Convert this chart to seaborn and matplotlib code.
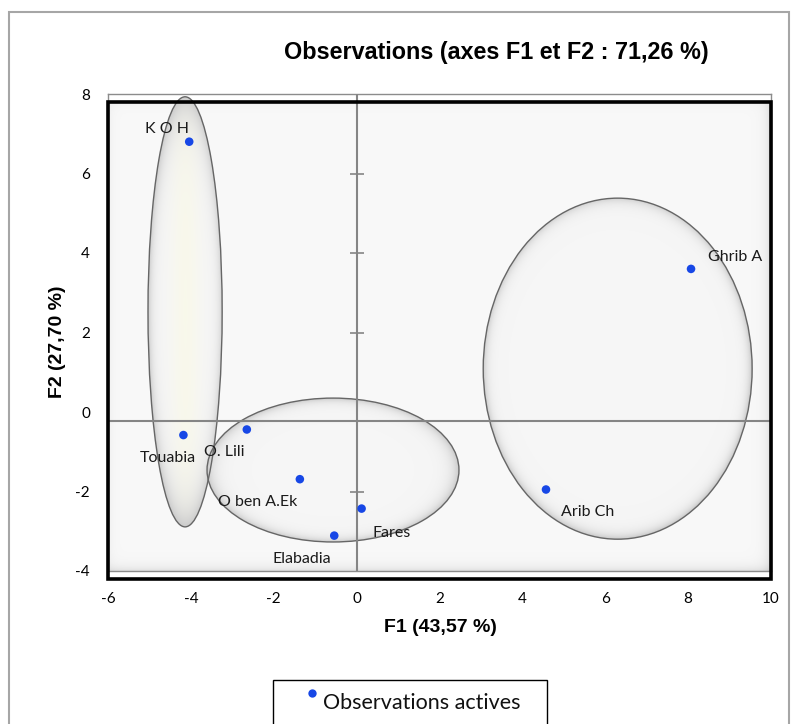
import numpy as np
import pandas as pd
import matplotlib
matplotlib.use("Agg")
import matplotlib.pyplot as plt
from matplotlib.patches import Ellipse, Rectangle
from matplotlib.lines import Line2D
import seaborn as sns

# PCA observation scores on the first two factors
sites = ["K O H", "Touabia", "O. Lili", "O ben A.Ek", "Fares", "Elabadia", "Ghrib A", "Arib Ch"]
f1 = [-4.04, -4.18, -2.65, -1.37, 0.12, -0.54, 8.07, 4.57]
f2 = [6.80, -0.58, -0.44, -1.69, -2.43, -3.11, 3.60, -1.95]

x_ticks = [-6, -4, -2, 0, 2, 4, 6, 8, 10]
y_ticks = [-4, -2, 0, 2, 4, 6, 8]

title = "Observations (axes F1 et F2 : 71,26 %)"
x_title = "F1 (43,57 %)"
y_title = "F2 (27,70 %)"
legend_label = "Observations actives"

# label placement relative to each point (pixels)
label_offsets = [(-22, 13), (-16, -23), (-23, -23), (-42, -23),
                 (30, -24), (-32, -23), (44, 12), (42, -22)]

# group envelopes: (centre x, centre y, width, height, yellow tint)
groups = [(-4.14, 2.52, 1.79, 10.82, True),
          (-0.57, -1.46, 6.08, 3.62, False),
          (6.30, 1.09, 6.49, 8.58, False)]

df = pd.DataFrame({"site": sites, "F1": f1, "F2": f2})

sns.set_theme(style="white")
plt.rcParams["font.family"] = ["Lato", "DejaVu Sans"]
plt.rcParams["text.color"] = "black"
plt.rcParams["axes.labelcolor"] = "black"
plt.rcParams["xtick.color"] = "black"
plt.rcParams["ytick.color"] = "black"

W, H = 797, 724
fig = plt.figure(figsize=(W / 100, H / 100), dpi=100)
fig.patch.set_facecolor("white")

# outer chart border
fig.add_artist(Rectangle((9 / W, -0.1), 780 / W, 1.1 - 12 / H,
                         transform=fig.transFigure, fill=False,
                         edgecolor="#a6a6a6", lw=1.5))

ax_l, ax_r, ax_t, ax_b = 108, 771, 94, 571
ax = fig.add_axes([ax_l / W, 1 - ax_b / H, (ax_r - ax_l) / W, (ax_b - ax_t) / H])
ax.set_xlim(-6, 10)
ax.set_ylim(-4, 8)
ax.set_facecolor("white")

# bevelled panel background
top_frac = (ax_b - 102) / (ax_b - ax_t)
pw, ph = ax_r - ax_l, ax_b - 102
yy, xx = np.mgrid[0:ph, 0:pw].astype(float)
dl, dr = xx, pw - 1 - xx
dt, db = yy, ph - 1 - yy
shade = (0.975 - 0.11 * np.exp(-dr / 5) - 0.09 * np.exp(-db / 5)
         - 0.04 * np.exp(-dl / 4) - 0.03 * np.exp(-dt / 4))
bg = np.dstack([shade] * 3).clip(0, 1)
ax.imshow(bg, extent=[0, 1, 0, top_frac], transform=ax.transAxes,
          aspect="auto", zorder=0, interpolation="bilinear")

# group envelopes with soft rim shading
px_x = (ax_r - ax_l) / 16.0
px_y = (ax_b - ax_t) / 12.0
for cx, cy, w, h, tint in groups:
    ell = Ellipse((cx, cy), w, h, facecolor="none", edgecolor="#666666",
                  lw=1.0, zorder=2)
    ax.add_patch(ell)
    gx = np.linspace(cx - w / 2, cx + w / 2, 300)
    gy = np.linspace(cy - h / 2, cy + h / 2, 400)
    GX, GY = np.meshgrid(gx, gy)
    xn = (GX - cx) / (w / 2)
    yn = (GY - cy) / (h / 2)
    r = np.sqrt(xn ** 2 + yn ** 2)
    semi_px = min(w / 2 * px_x, h / 2 * px_y)
    d = np.clip(1 - r, 0, None) * semi_px
    val = 0.965 - 0.17 * np.exp(-d / 4)
    rgb = np.dstack([val, val, val])
    if tint:
        t = np.exp(-(xn ** 2) / 0.15) * (1 - np.exp(-d / 10))
        rgb[..., 0] = val + 0.01 * t
        rgb[..., 1] = val + 0.008 * t
        rgb[..., 2] = val - 0.045 * t
    im = ax.imshow(rgb.clip(0, 1), extent=[gx[0], gx[-1], gy[0], gy[-1]],
                   origin="lower", aspect="auto", zorder=1,
                   interpolation="bilinear")
    im.set_clip_path(ell)

# crossing reference lines
ax.axvline(0, color="#858585", lw=1.5, zorder=3)
ax.axhline(-0.23, color="#858585", lw=1.5, zorder=3)
ax.plot([0] * 4, [-2, 2, 4, 6], ls="none", marker="_", ms=10, mew=1.2,
        color="#858585", zorder=3)
ax.set_xlim(-6, 10)
ax.set_ylim(-4, 8)

sns.scatterplot(data=df, x="F1", y="F2", ax=ax, color="#1747e6", s=38,
                edgecolor="none", legend=False, zorder=5)

for name, x, y, (dx, dy) in zip(df["site"], df["F1"], df["F2"], label_offsets):
    ax.annotate(name, (x, y), xytext=(dx, dy), textcoords="offset pixels",
                ha="center", va="center", fontsize=11.5, color="#1a1a1a",
                zorder=6)

ax.set_xticks(x_ticks)
ax.set_yticks(y_ticks)
ax.set_xticklabels([str(v) for v in x_ticks])
ax.set_yticklabels([str(v) for v in y_ticks])
ax.tick_params(axis="x", length=0, pad=15, labelsize=11)
ax.tick_params(axis="y", length=0, pad=13, labelsize=11)
ax.grid(False)
for s in ax.spines.values():
    s.set_color("#8c8c8c")
    s.set_linewidth(1.0)

ax.set_xlabel(x_title, fontsize=14, fontweight="bold",
              family="Liberation Sans")
ax.set_ylabel(y_title, fontsize=14, fontweight="bold",
              family="Liberation Sans")
ax.xaxis.label.set_va("center")
ax.yaxis.label.set_va("center")
ax.xaxis.set_label_coords((440 - ax_l) / (ax_r - ax_l), (ax_b - 627) / (ax_b - ax_t))
ax.yaxis.set_label_coords((58 - ax_l) / (ax_r - ax_l), (ax_b - 342) / (ax_b - ax_t))

# thick black plot frame
fig.add_artist(Rectangle((ax_l / W, 1 - 579 / H), (ax_r - ax_l) / W, (579 - 102) / H,
                         transform=fig.transFigure, fill=False,
                         edgecolor="black", lw=2.6, zorder=10))

fig.text(496 / W, 1 - 52 / H, title, ha="center", va="center", fontsize=16.8,
         fontweight="bold", family="Liberation Sans")

# legend box
fig.add_artist(Rectangle((273 / W, -0.05), 274 / W, 0.05 + (H - 680) / H,
                         transform=fig.transFigure, fill=False,
                         edgecolor="black", lw=1.0))
fig.add_artist(Line2D([312 / W], [1 - 693 / H], transform=fig.transFigure,
                      marker="o", ms=6, color="#1747e6", mec="none", ls="none"))
fig.text(323 / W, 1 - 703 / H, legend_label, ha="left", va="center",
         fontsize=15.5, color="#111111")

fig.savefig("out.png", dpi=100)
